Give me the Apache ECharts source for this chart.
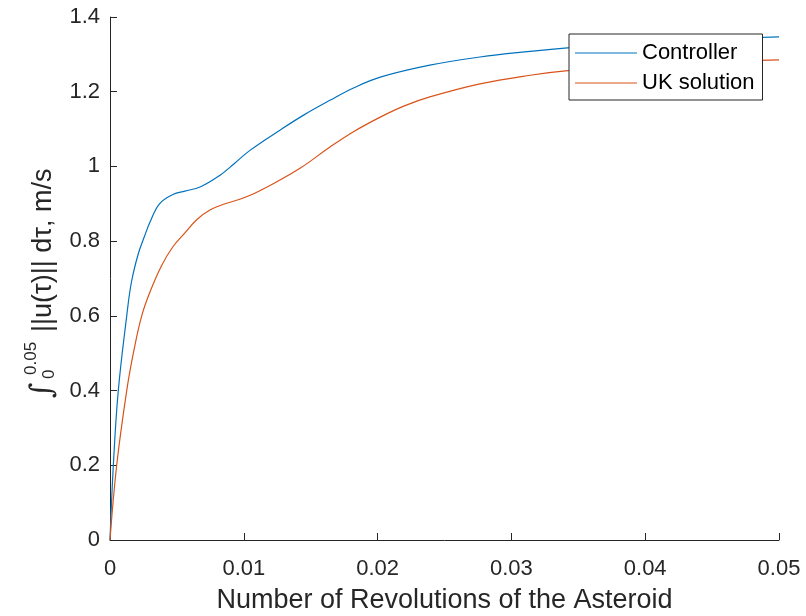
<!DOCTYPE html>
<html>
<head>
<meta charset="utf-8">
<script src="https://cdn.jsdelivr.net/npm/echarts@6/dist/echarts.min.js"></script>
<style>
  html, body { margin: 0; padding: 0; background: #fff; }
  #chart { width: 806px; height: 616px; }
</style>
</head>
<body>
<div id="chart"></div>
<script>
// values
const controllerX = [0, 0.00025, 0.00062, 0.00125, 0.0016, 0.00212, 0.0026, 0.003, 0.0037, 0.0047, 0.0056,
  0.00673, 0.0082, 0.0093, 0.01046, 0.0127, 0.0145, 0.01644, 0.0182, 0.0202, 0.0239, 0.02765, 0.0314,
  0.0344, 0.04, 0.045, 0.05];
const controllerY = [0, 0.2, 0.4, 0.6, 0.69, 0.767, 0.815, 0.852, 0.9, 0.925, 0.934,
  0.945, 0.976, 1.008, 1.043, 1.097, 1.138, 1.177, 1.21, 1.239, 1.271, 1.293, 1.308,
  1.318, 1.333, 1.341, 1.347];

const ukX = [0, 0.0005, 0.00125, 0.0018, 0.00237, 0.003, 0.00386, 0.0047, 0.0056, 0.0065, 0.0075, 0.0086,
  0.0097, 0.0107, 0.0117, 0.0142, 0.01644, 0.0182, 0.0202, 0.022, 0.0239, 0.02765, 0.0314, 0.0344,
  0.04, 0.045, 0.05];
const ukY = [0, 0.2, 0.4, 0.51, 0.6, 0.665, 0.735, 0.785, 0.822, 0.858, 0.884, 0.9,
  0.912, 0.926, 0.944, 0.995, 1.052, 1.093, 1.132, 1.162, 1.186, 1.221, 1.244, 1.257,
  1.272, 1.28, 1.285];

const xTickLabels = ['0', '0.01', '0.02', '0.03', '0.04', '0.05'];
const yTickLabels = ['0', '0.2', '0.4', '0.6', '0.8', '1', '1.2', '1.4'];

const seriesNames = ['Controller', 'UK solution'];

function pairs(xs, ys) {
  return xs.map((x, i) => [x, ys[i]]);
}

const axisColor = '#262626';
const font = 'Liberation Sans, Arial, Helvetica, sans-serif';

const chart = echarts.init(document.getElementById('chart'));

chart.setOption({
  animation: false,
  backgroundColor: '#fff',
  grid: { left: 110, right: 27, top: 17, bottom: 76, outerBoundsMode: 'none' },
  xAxis: {
    type: 'value',
    min: 0,
    max: 0.05,
    interval: 0.01,
    name: 'Number of Revolutions of the Asteroid',
    nameLocation: 'middle',
    nameGap: 47,
    nameTextStyle: { fontSize: 27, color: axisColor, fontFamily: font },
    axisLine: { lineStyle: { color: axisColor, width: 1 } },
    axisTick: { inside: true, length: 7, lineStyle: { color: axisColor } },
    axisLabel: {
      fontSize: 22, color: axisColor, fontFamily: font, margin: 18,
      formatter: (v, i) => xTickLabels[i]
    },
    splitLine: { show: false }
  },
  yAxis: {
    type: 'value',
    min: 0,
    max: 1.4,
    interval: 0.2,
    axisLine: { show: true, lineStyle: { color: axisColor, width: 1 } },
    axisTick: { show: true, inside: true, length: 7, lineStyle: { color: axisColor } },
    axisLabel: {
      fontSize: 22, color: axisColor, fontFamily: font, margin: 10,
      formatter: (v, i) => yTickLabels[i]
    },
    splitLine: { show: false }
  },
  legend: {
    data: seriesNames,
    orient: 'vertical',
    left: 569,
    top: 34,
    icon: 'rect',
    itemWidth: 62,
    itemHeight: 1.2,
    itemGap: 6,
    padding: [7, 8, 5, 6],
    backgroundColor: '#fff',
    borderColor: axisColor,
    borderWidth: 1,
    borderRadius: 0,
    textStyle: { fontSize: 22, color: '#000', fontFamily: font, lineHeight: 24 }
  },
  graphic: [{
    type: 'group',
    x: 44,
    y: 280,
    rotation: Math.PI / 2,
    children: [
      { type: 'text', x: -118, y: -1,
        style: { text: '∫', fontSize: 30, fontFamily: 'DejaVu Serif, serif', fontStyle: 'italic', fill: axisColor, verticalAlign: 'middle' } },
      { type: 'text', x: -95, y: -13,
        style: { text: '0.05', fontSize: 17, fontFamily: font, fill: axisColor, verticalAlign: 'middle' } },
      { type: 'text', x: -99, y: 5,
        style: { text: '0', fontSize: 17, fontFamily: font, fill: axisColor, verticalAlign: 'middle' } },
      { type: 'text', x: -52, y: 0,
        style: { text: '||u(τ)|| dτ, m/s', fontSize: 27, fontFamily: font, fill: axisColor, verticalAlign: 'middle' } }
    ]
  }],
  series: [
    {
      name: seriesNames[0],
      type: 'line',
      data: pairs(controllerX, controllerY),
      symbol: 'none',
      smooth: 0.4,
      lineStyle: { color: '#0072BD', width: 1.2 },
      itemStyle: { color: '#0072BD' }
    },
    {
      name: seriesNames[1],
      type: 'line',
      data: pairs(ukX, ukY),
      symbol: 'none',
      smooth: 0.4,
      lineStyle: { color: '#D95319', width: 1.2 },
      itemStyle: { color: '#D95319' }
    }
  ]
});
</script>
</body>
</html>
